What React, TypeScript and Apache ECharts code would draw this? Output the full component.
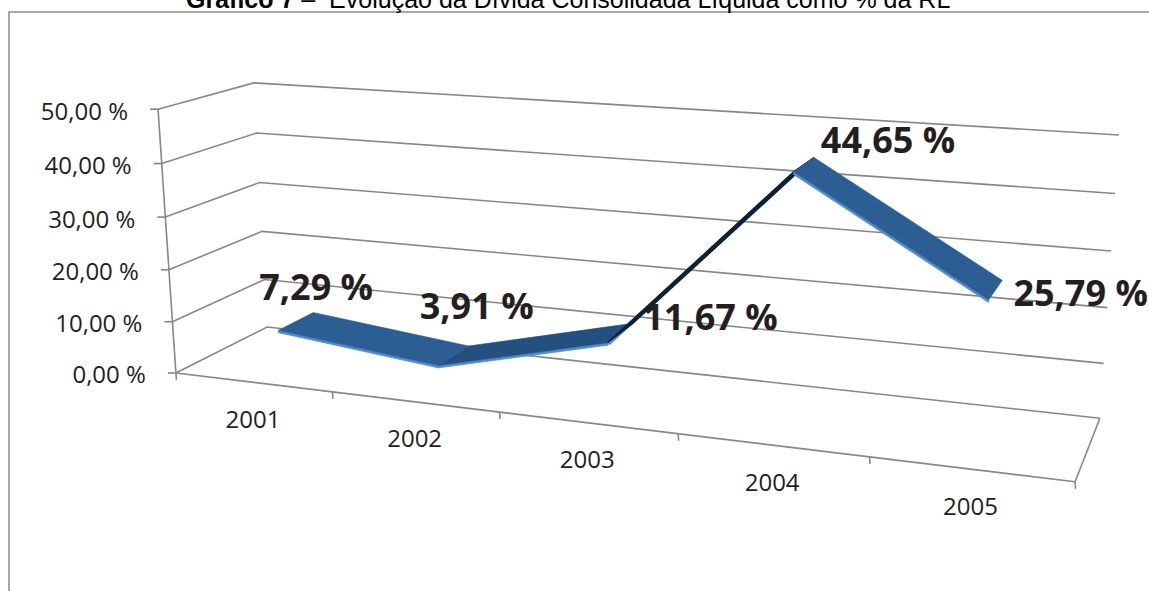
import React, { useEffect, useRef } from "react";
import * as echarts from "echarts";

// ---------- data ----------
const titleBold = "Gráfico 7";
const titleRest = " –  Evolução da Dívida Consolidada Líquida como % da RL";
const categories = ["2001", "2002", "2003", "2004", "2005"];
const values = [7.29, 3.91, 11.67, 44.65, 25.79];
const yTicks = [0, 10, 20, 30, 40, 50];
const yMin = 0;
const yMax = 50;
const yInterval = 10;

// ---------- layout (3D box corners on screen; world u,v,w in [0,1]) ----------
const boxCorners = [
  { w: [0, 0, 0], s: [176, 373] },
  { w: [0, 1, 0], s: [158, 109] },
  { w: [0, 0, 1], s: [267, 327] },
  { w: [0, 1, 1], s: [254, 83] },
  { w: [1, 0, 1], s: [1100, 418] },
  { w: [1, 1, 1], s: [1119, 135] },
  { w: [1, 0, 0], s: [1075, 482] },
];
const ribbonFront = 0.3;
const ribbonBack = 0.7;
const ribbonThickness = 0.009;
const labelOffsets = [
  [20, -35],
  [23, -50],
  [90, -16],
  [84, -25],
  [85, 3],
];

function solveProjection() {
  const cx = 600, cy = 300, sc = 500;
  const rows: number[][] = [];
  const rhs: number[] = [];
  for (const c of boxCorners) {
    const [X, Y, Z] = c.w;
    const u = (c.s[0] - cx) / sc;
    const v = (c.s[1] - cy) / sc;
    rows.push([X, Y, Z, 1, 0, 0, 0, 0, -u * X, -u * Y, -u * Z]);
    rhs.push(u);
    rows.push([0, 0, 0, 0, X, Y, Z, 1, -v * X, -v * Y, -v * Z]);
    rhs.push(v);
  }
  const n = 11;
  const A = Array.from({ length: n }, () => new Array(n + 1).fill(0));
  for (let r = 0; r < rows.length; r++) {
    for (let i = 0; i < n; i++) {
      for (let j = 0; j < n; j++) A[i][j] += rows[r][i] * rows[r][j];
      A[i][n] += rows[r][i] * rhs[r];
    }
  }
  for (let i = 0; i < n; i++) {
    let p = i;
    for (let k = i + 1; k < n; k++) if (Math.abs(A[k][i]) > Math.abs(A[p][i])) p = k;
    const tmp = A[i]; A[i] = A[p]; A[p] = tmp;
    for (let k = 0; k < n; k++) {
      if (k === i) continue;
      const f = A[k][i] / A[i][i];
      for (let j = i; j <= n; j++) A[k][j] -= f * A[i][j];
    }
  }
  const x = A.map((row, i) => row[n] / row[i]);
  return (X: number, Y: number, Z: number): number[] => {
    const d = x[8] * X + x[9] * Y + x[10] * Z + 1;
    return [
      cx + (sc * (x[0] * X + x[1] * Y + x[2] * Z + x[3])) / d,
      cy + (sc * (x[4] * X + x[5] * Y + x[6] * Z + x[7])) / d,
    ];
  };
}

const fmt = (v: number) => v.toFixed(2).replace(".", ",") + " %";

export default function App() {
  const ref = useRef<HTMLDivElement>(null);
  useEffect(() => {
    document.body.style.margin = "0";
    const chart = echarts.init(ref.current!, undefined, { renderer: "svg" });
    const P = solveProjection();
    const toUV = (pt: number[], cs: any) => [
      (pt[0] - cs.x) / cs.width,
      (cs.y + cs.height - pt[1]) / cs.height,
    ];
    const gridColor = "#878787";
    const textColor = "#231f20";
    const edgeColor = "#4c8ed4";

    const option: any = {
      animation: false,
      grid: { left: 0, top: 0, width: 500, height: 500, show: false },
      xAxis: { type: "category", data: categories, show: false, boundaryGap: true },
      yAxis: { type: "value", min: yMin, max: yMax, interval: yInterval, show: false },
      graphic: [
        {
          type: "rect",
          shape: { x: 9, y: 12, width: 1300, height: 700 },
          style: { fill: "none", stroke: "#8c8c8c", lineWidth: 1.5 },
          silent: true,
        },
        {
          type: "text",
          x: 186,
          y: -1,
          style: {
            text: "{b|" + titleBold + "}{r|" + titleRest + "}",
            fontFamily: "Liberation Sans",
            fontSize: 25,
            fill: "#000",
            align: "left",
            verticalAlign: "middle",
            rich: {
              b: { fontWeight: "bold", fontSize: 25, fontFamily: "Liberation Sans", fill: "#000" },
              r: { fontSize: 25, fontFamily: "Liberation Sans", fill: "#000" },
            },
          },
        },
      ],
      series: [
        {
          // walls & value axis
          type: "custom",
          data: yTicks.map((t) => [0, t]),
          renderItem: (params: any, api: any) => {
            const cs = params.coordSys;
            const t = api.value(1);
            const v = toUV(api.coord([0, t]), cs)[1];
            const a = P(0, v, 0), b = P(0, v, 1), c = P(1, v, 1);
            return {
              type: "group",
              children: [
                {
                  type: "polyline",
                  shape: { points: [a, b, c] },
                  style: { stroke: gridColor, lineWidth: 1.6, fill: "none" },
                },
                {
                  type: "line",
                  shape: { x1: a[0] - 8, y1: a[1], x2: a[0], y2: a[1] },
                  style: { stroke: gridColor, lineWidth: 1.6 },
                },
                {
                  type: "text",
                  x: a[0] - 30,
                  y: a[1] + 1,
                  style: {
                    text: fmt(t),
                    fontFamily: "Open Sans",
                    fontSize: 24,
                    fill: textColor,
                    align: "right",
                    verticalAlign: "middle",
                  },
                },
              ],
            };
          },
        },
        {
          // floor & category axis
          type: "custom",
          data: categories.map((c, i) => [i, 0]),
          renderItem: (params: any, api: any) => {
            const cs = params.coordSys;
            const i = api.value(0);
            const pc = api.coord([i, 0]);
            const half = api.size([1, 0])[0] / 2 / cs.width;
            const uc = toUV(pc, cs)[0];
            const ub = uc + half;
            const center = P(uc, 0, 0);
            const bnd = P(ub, 0, 0);
            const children: any[] = [
              {
                type: "line",
                shape: { x1: bnd[0], y1: bnd[1], x2: bnd[0] + 0.5, y2: bnd[1] + 7 },
                style: { stroke: gridColor, lineWidth: 1.6 },
              },
              {
                type: "text",
                x: center[0],
                y: center[1] + 36,
                style: {
                  text: categories[i],
                  fontFamily: "Open Sans",
                  fontSize: 24,
                  fill: textColor,
                  align: "center",
                  verticalAlign: "middle",
                },
              },
            ];
            if (i === 0) {
              const o = P(0, 0, 0), top = P(0, 1, 0), fr = P(1, 0, 0), br = P(1, 0, 1);
              children.push(
                {
                  type: "line",
                  shape: { x1: o[0], y1: o[1], x2: fr[0], y2: fr[1] },
                  style: { stroke: gridColor, lineWidth: 1.6 },
                },
                {
                  type: "line",
                  shape: { x1: fr[0], y1: fr[1], x2: br[0], y2: br[1] },
                  style: { stroke: gridColor, lineWidth: 1.6 },
                },
                {
                  type: "line",
                  shape: { x1: top[0], y1: top[1], x2: o[0] + 0.5, y2: o[1] + 7 },
                  style: { stroke: gridColor, lineWidth: 1.6 },
                }
              );
            }
            return { type: "group", children };
          },
        },
        {
          // 3D ribbon line
          type: "custom",
          data: values.slice(0, -1).map((v, i) => [i, v, values[i + 1]]),
          renderItem: (params: any, api: any) => {
            const cs = params.coordSys;
            const i = api.value(0);
            const [ua, va] = toUV(api.coord([i, api.value(1)]), cs);
            const [ub, vb] = toUV(api.coord([i + 1, api.value(2)]), cs);
            const fa = P(ua, va, ribbonFront), fb = P(ub, vb, ribbonFront);
            const ba = P(ua, va, ribbonBack), bb = P(ub, vb, ribbonBack);
            const faL = P(ua, va - ribbonThickness, ribbonFront);
            const fbL = P(ub, vb - ribbonThickness, ribbonFront);
            const cross =
              (fb[0] - fa[0]) * (ba[1] - fa[1]) - (fb[1] - fa[1]) * (ba[0] - fa[0]);
            const underside = cross > 0;
            let color = vb > va ? "#24507f" : "#2d5e93";
            if (underside) color = "#0d2236";
            const children: any[] = [
              {
                type: "polygon",
                shape: { points: [fa, fb, fbL, faL] },
                style: { fill: edgeColor, stroke: edgeColor, lineWidth: 0.8 },
              },
            ];
            if (underside) {
              children.push({
                type: "polyline",
                shape: {
                  points: [
                    [fa[0] + 1.6, fa[1] + 1.2],
                    [fb[0] + 1.6, fb[1] + 1.2],
                  ],
                },
                style: { stroke: edgeColor, lineWidth: 2.6, fill: "none" },
              });
            }
            children.push({
              type: "polygon",
              shape: { points: [fa, fb, bb, ba] },
              style: { fill: color, stroke: color, lineWidth: underside ? 1.4 : 0.6 },
            });
            return { type: "group", children };
          },
        },
        {
          // data labels
          type: "custom",
          data: values.map((v, i) => [i, v]),
          renderItem: (params: any, api: any) => {
            const cs = params.coordSys;
            const i = api.value(0);
            const v = api.value(1);
            const [u, w] = toUV(api.coord([i, v]), cs);
            const p = P(u, w, (ribbonFront + ribbonBack) / 2);
            const off = labelOffsets[i];
            return {
              type: "text",
              x: p[0] + off[0],
              y: p[1] + off[1],
              style: {
                text: fmt(v),
                fontFamily: "Open Sans",
                fontWeight: "bold",
                fontSize: 36,
                fill: textColor,
                align: "center",
                verticalAlign: "middle",
              },
            };
          },
        },
      ],
    };
    chart.setOption(option);
    return () => chart.dispose();
  }, []);
  return <div ref={ref} style={{ width: 1149, height: 591 }} />;
}
